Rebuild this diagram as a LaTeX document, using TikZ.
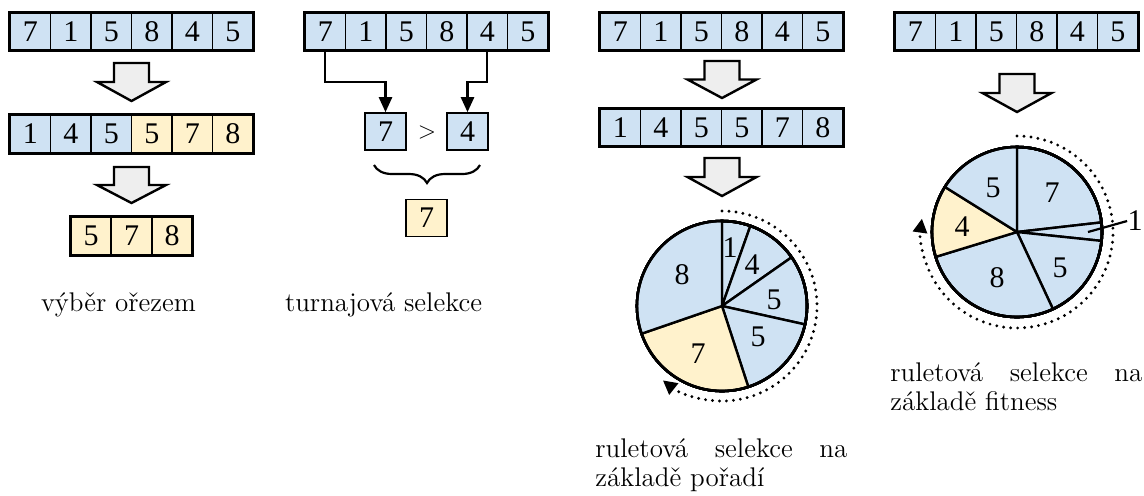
\documentclass[tikz,border=0pt]{standalone}
\usepackage{fontspec}
\newfontfamily\numfont{Liberation Serif}
\usetikzlibrary{arrows.meta,decorations.pathreplacing,calc}
\definecolor{cellblue}{HTML}{CFE2F3}
\definecolor{cellyellow}{HTML}{FFF2CC}
\definecolor{arrowgray}{HTML}{EEEEEE}

% one row of value cells: name, left x, centre y, value/style list, cell count
\newcommand\cellrow[5]{%
  \foreach \v/\s [count=\i] in {#4}
    \node[\s] (#1-\i) at ({#2+(\i-0.5)*40.5}, #3) {\v};
  \draw[frame] (#1-1.north west) rectangle (#1-#5.south east);
}
% broad downward arrow: centre x, top y, tip y (measured downwards)
\newcommand\downblock[3]{%
  \draw[barrow] ({#1-17.5},{-#2}) -- ({#1+17.5},{-#2}) -- ({#1+17.5},{-(#2+#3)/2})
    -- ({#1+34.5},{-(#2+#3)/2}) -- (#1,{-#3}) -- ({#1-34.5},{-(#2+#3)/2})
    -- ({#1-17.5},{-(#2+#3)/2}) -- cycle;
}
% one wedge of a roulette wheel: centre, radius, start angle, end angle, fill
\newcommand\pieslice[5]{%
  \filldraw[slice, fill=#5] (#1) -- ++(#3:#2) arc[start angle=#3, end angle=#4, radius=#2] -- cycle;
}

\begin{document}
\begin{tikzpicture}[x=0.5pt, y=0.5pt,
  txt/.style={font=\fontsize{13.5}{14.5}\selectfont},
  num/.style={font=\fontsize{15}{16}\numfont},
  cell/.style={draw, line width=0.8pt, minimum width=20.25pt, minimum height=18.5pt,
    inner sep=0pt, num, fill=cellblue},
  hit/.style={cell, fill=cellyellow},
  frame/.style={draw, line width=1.4pt},
  barrow/.style={draw, line width=1.2pt, fill=arrowgray, line join=miter},
  slice/.style={draw, line width=1.2pt, line join=round},
  pick/.style={draw, line width=1.2pt, -{Triangle[length=7.5pt,width=6.5pt]}},
  spin/.style={line width=1.6pt, dash pattern=on 0pt off 3.5pt, line cap=round,
    -{Triangle[length=7pt,width=7pt]}},
  caption/.style={txt, anchor=base west, text width=126pt, align=justify, inner sep=0pt}]
\useasboundingbox (0,0) rectangle (1144,-495);

% ---- truncation selection ----
\cellrow{ta}{10}{-31.5}{7/cell,1/cell,5/cell,8/cell,4/cell,5/cell}{6}
\downblock{131.5}{63}{101}
\cellrow{tb}{10}{-134}{1/cell,4/cell,5/cell,5/hit,7/hit,8/hit}{6}
\downblock{131.5}{167}{203}
\cellrow{tc}{70.75}{-236}{5/hit,7/hit,8/hit}{3}
\node[txt, anchor=base] (lab1) at (118.5,-311) {výběr ořezem};

% ---- tournament selection ----
\cellrow{ua}{305}{-31.5}{7/cell,1/cell,5/cell,8/cell,4/cell,5/cell}{6}
\node[cell] (u7) at (385.5,-131.5) {7};
\node[cell] (u4) at (467.5,-131.5) {4};
\node[font=\fontsize{12}{12}\sffamily] (gt) at (427,-132) {>};
\draw[pick] (ua-1.south) -- ++(0,-31) -| (u7.north);
\draw[pick] (ua-5.south) -- ++(0,-31) -| (u4.north);
\coordinate (br1) at (374,-165);
\coordinate (br2) at (480,-165);
\draw[decorate, decoration={brace, mirror, amplitude=9pt}, line width=1.1pt] (br1) -- (br2);
\node[hit] (uw) at (426.5,-218) {7};
\node[txt, anchor=base] (lab2) at (383.5,-311) {turnajová selekce};

% ---- rank-based roulette ----
\cellrow{ra}{600}{-31.5}{7/cell,1/cell,5/cell,8/cell,4/cell,5/cell}{6}
\downblock{722}{61}{98}
\cellrow{rb}{600}{-127.5}{1/cell,4/cell,5/cell,5/cell,7/cell,8/cell}{6}
\downblock{722}{158}{196}
\coordinate (rw) at (722,-306);
\foreach \a/\b/\c in {90/70.5/cellblue, 70.5/35/cellblue, 35/-12.5/cellblue,
    -12.5/-72/cellblue, -72/-161/cellyellow, -161/-270/cellblue}
  \pieslice{rw}{85}{\a}{\b}{\c}
\draw[line width=1.3pt] (rw) circle[radius=85];
\node[num] (r1) at (730,-248) {1};
\node[num] (r4) at (752,-265) {4};
\node[num] (r5a) at (774,-300) {5};
\node[num] (r5b) at (758,-337) {5};
\node[num] (r7) at (698,-354) {7};
\node[num] (r8) at (682,-275) {8};
\draw[spin] ($(rw)+(90:95)$) arc[start angle=90, end angle=-128.5, radius=95];
\node[caption] (lab3) at (595,-457) {ruletová selekce na\linebreak základě pořadí};

% ---- fitness-proportional roulette ----
\cellrow{fa}{895}{-31.5}{7/cell,1/cell,5/cell,8/cell,4/cell,5/cell}{6}
\downblock{1017}{74}{112}
\coordinate (fw) at (1017,-232);
\foreach \a/\b/\c in {90/6.5/cellblue, 6.5/-6/cellblue, -6/-65/cellblue,
    -65/-163/cellblue, -163/-212/cellyellow, -212/-270/cellblue}
  \pieslice{fw}{85}{\a}{\b}{\c}
\draw[line width=1.3pt] (fw) circle[radius=85];
\node[num] (f7) at (1052,-193) {7};
\node[num] (f5a) at (1060,-268) {5};
\node[num] (f8) at (997,-278) {8};
\node[num] (f4) at (962,-227) {4};
\node[num] (f5b) at (993,-188) {5};
\node[num, inner sep=0pt] (f1) at (1135,-221) {1};
\coordinate (f1in) at (1088,-232);
\draw[line width=1.1pt] (f1in) -- (f1.west);
\draw[spin] ($(fw)+(90:96)$) arc[start angle=90, end angle=-188, radius=96];
\node[caption] (lab4) at (890,-381) {ruletová selekce na\linebreak základě fitness};
\end{tikzpicture}
\end{document}
